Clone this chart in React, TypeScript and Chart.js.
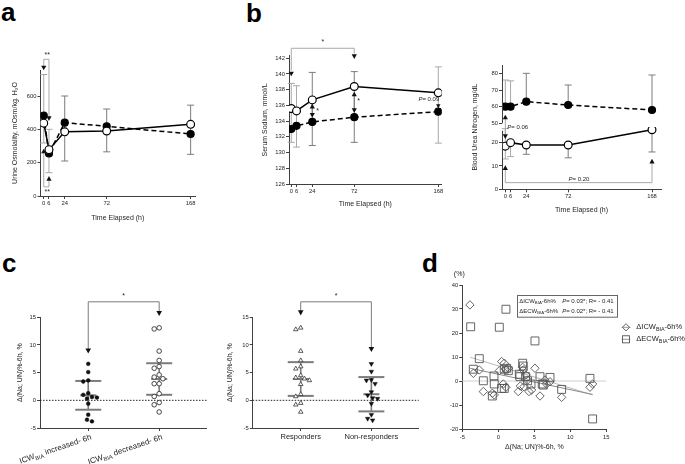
import React, { useEffect, useRef } from 'react';
import { Chart, registerables } from 'chart.js';

Chart.register(...registerables);

const FONT = '"Liberation Sans", Arial, Helvetica, sans-serif';
Chart.defaults.font.family = FONT;

const TXT = '#1e1e1e';
const AXIS = '#404040';
const LIGHT = '#a8a8a8';
const MID = '#7c7c7c';
const TICK_SIZE = 5.8;
const TITLE_SIZE = 7;

// ---------- time points (panels a, b) ----------
const hours = [0, 6, 24, 72, 168];

// a: urine osmolality
const osmFilled = [483, 255, 440, 418, 372];
const osmOpen = [437, 278, 385, 390, 430];
const osmErrHigh = [729, 400, 600, 522, 545];
const osmErrLow = [318, 140, 210, 265, 250];
const osmTicks = [0, 200, 400, 600];

// b: serum sodium
const naOpen = [135.6, 135.3, 136.7, 138.4, 137.6];
const naFilled = [133.0, 133.4, 133.9, 134.5, 135.2];
const naErrHigh = [138.8, 138.5, 140.2, 140.3, 140.9];
const naErrLow = [131.3, 130.7, 130.9, 131.3, 131.2];
const naTicks = [126, 128, 130, 132, 134, 136, 138, 140, 142];

// b: blood urea nitrogen
const bunFilled = [60, 60, 63, 61, 58];
const bunFilledHigh = [76, 75.5, 80, 73, 79];
const bunOpen = [18.5, 20, 19, 19, 25.5];
const bunOpenLow = [13, 14, 15, 13.5, 16];
const bunOpenHigh = [26, null, null, null, null];
const bunUpperTicks = [50, 60, 70, 80];
const bunLowerTicks = [0, 10, 20];

// c: Δ(Na; UN)%-6h by group
const icwIncreased = [6.6, 5.1, 3.6, 3.4, 1.3, 1.0, 0.6, 0.5, 0.3, -0.6, -2.6, -3.5, -3.8];
const icwDecreased = [13.1, 12.9, 8.9, 7.2, 6.1, 5.8, 4.6, 4.2, 3.9, 3.0, 3.0, 1.2, 0.7, -0.4, -0.8, -2.1];
const icwGroupMean = [0.9, 3.85];
const icwGroupSd = [2.6, 2.85];
const responders = [13.1, 12.8, 8.9, 7.2, 6.1, 5.7, 4.5, 4.1, 3.9, 3.6, 2.9, 1.1, 0.7, -0.5, -0.8, -2.1];
const nonResponders = [6.6, 5.2, 3.7, 3.6, 3.0, 1.5, 0.9, 0.4, 0.3, -0.6, -2.6, -3.3, -3.6];
const respGroupMean = [3.85, 1.1];
const respGroupSd = [3.05, 3.1];
const cTicks = [-5, 0, 5, 10, 15];
const respLabels = ['Responders', 'Non-responders'];

// d: scatter
const icwX = [-3.94, -3.47, -2.64, -2.08, -0.83, -0.56, 0.14, 0.46, 0.83, 0.69, 1.06, 1.0, 1.39, 2.78, 3.06, 3.38, 3.47, 3.56, 3.84, 4.07, 4.26, 4.63, 5.09, 5.79, 6.48, 6.7, 7.18, 8.8, 12.73, 13.1];
const icwY = [31.7, 3.2, 4.6, -4.4, -5.1, -5.8, 4.3, 8.1, 7.4, -1.25, -2.6, 4.9, 5.3, -4.4, -2.1, 5.7, 4.6, -2.4, 2.5, 0.4, -4.4, -3.75, 5.3, -6.25, 0.4, -1.25, -0.3, -6.8, -2.6, -1.25];
const ecwX = [-3.84, -3.47, -2.64, -2.08, -0.6, -0.56, -0.83, 0.14, 0.46, 0.83, 0.83, 1.06, 1.16, 1.39, 2.92, 3.0, 3.38, 3.47, 3.8, 4.07, 4.54, 5.09, 5.79, 6.1, 6.25, 7.18, 8.8, 12.73, 13.1];
const ecwY = [22.6, 4.9, 9.3, 0.1, 2.1, -1.25, -6.25, 22.4, -3.1, -3.1, 4.9, 29.9, 5.3, 4.3, 2.8, 1.8, 7.4, 6.25, 1.8, 0.1, -1.25, 16.7, 1.8, -1.25, -1.7, 1.5, -3.5, 1.1, -15.8];
const fitX = [-3.9, 13.1];
const fitIcw = [5.3, -5.6];
const fitEcw = [9.9, -5.8];
const dTicksX = [-5, 0, 5, 10, 15];
const dTicksY = [-20, -10, 0, 10, 20, 30, 40];

// ---------- geometry ----------
const GEO: any = {
  a: { L: 0, T: 30, W: 205, H: 195, cl: 40.5, ct: 70, cr: 195, cb: 196 },
  b: { L: 200, T: 30, W: 250, H: 185, cl: 289, ct: 55.9, cr: 441.7, cb: 184 },
  bun: { L: 450, T: 30, W: 235, H: 190, cl: 502, ct: 65, cr: 661, cb: 189.3 },
  cl: { L: 0, T: 285, W: 215, H: 179, cl: 40, ct: 317.3, cr: 206.7, cb: 428 },
  cr: { L: 215, T: 285, W: 225, H: 179, cl: 252.7, ct: 317.3, cr: 418.7, cb: 428 },
  d: { L: 440, T: 260, W: 245, H: 204, cl: 462.3, ct: 285, cr: 606.3, cb: 429 },
};

// ---------- drawing helpers ----------
function ln(ctx: any, x1: number, y1: number, x2: number, y2: number, color: string, w = 1, dash: number[] = []) {
  ctx.save();
  ctx.strokeStyle = color;
  ctx.lineWidth = w;
  ctx.setLineDash(dash);
  ctx.beginPath();
  ctx.moveTo(x1, y1);
  ctx.lineTo(x2, y2);
  ctx.stroke();
  ctx.restore();
}
function tri(ctx: any, x: number, y: number, dir: string, s = 2.6, color = '#111') {
  ctx.save();
  ctx.fillStyle = color;
  ctx.beginPath();
  const h = s * 0.9;
  if (dir === 'down') {
    ctx.moveTo(x - s, y - h); ctx.lineTo(x + s, y - h); ctx.lineTo(x, y + h);
  } else {
    ctx.moveTo(x - s, y + h); ctx.lineTo(x + s, y + h); ctx.lineTo(x, y - h);
  }
  ctx.closePath();
  ctx.fill();
  ctx.restore();
}
function ebar(ctx: any, x: number, yHi: number, yLo: number, cap: number, color: string, w = 1) {
  ln(ctx, x, yHi, x, yLo, color, w);
  ln(ctx, x - cap, yHi, x + cap, yHi, color, w);
  ln(ctx, x - cap, yLo, x + cap, yLo, color, w);
}
type Seg = { t: string; sub?: boolean; it?: boolean };
const S = (t: string, it = false): Seg => ({ t, it });
const SUB = (t: string): Seg => ({ t, sub: true });
function segFont(size: number, s: Seg) {
  return `${s.it ? 'italic ' : ''}${s.sub ? size * 0.72 : size}px ${FONT}`;
}
function segsWidth(ctx: any, segs: Seg[], size: number) {
  let w = 0;
  for (const s of segs) { ctx.font = segFont(size, s); w += ctx.measureText(s.t).width; }
  return w;
}
function drawSegs(ctx: any, segs: Seg[], x: number, y: number, size: number, align = 'left', color = TXT) {
  ctx.save();
  ctx.fillStyle = color;
  ctx.textBaseline = 'middle';
  ctx.textAlign = 'left';
  const w = segsWidth(ctx, segs, size);
  let cx = align === 'left' ? x : align === 'right' ? x - w : x - w / 2;
  for (const s of segs) {
    ctx.font = segFont(size, s);
    ctx.fillText(s.t, cx, s.sub ? y + size * 0.32 : y);
    cx += ctx.measureText(s.t).width;
  }
  ctx.restore();
}
function diamond(ctx: any, x: number, y: number, r: number) {
  ctx.beginPath(); ctx.moveTo(x - r, y); ctx.lineTo(x, y - r); ctx.lineTo(x + r, y); ctx.lineTo(x, y + r); ctx.closePath(); ctx.stroke();
}
function square(ctx: any, x: number, y: number, r: number) {
  const s = r * Math.SQRT1_2;
  ctx.strokeRect(x - s, y - s, 2 * s, 2 * s);
}

// simple deterministic beeswarm offsets (x units) for a dot column
function swarm(vals: number[], dx: number, dy: number) {
  const placed: { x: number; y: number }[] = [];
  return vals.map((v) => {
    let off = 0;
    for (let k = 0; k < 40; k++) {
      const cand = (k % 2 === 0 ? 1 : -1) * Math.ceil(k / 2) * dx * 0.25;
      const hit = placed.some((p) => Math.hypot((p.x - cand) / dx, (p.y - v) / dy) < 1);
      if (!hit) { off = cand; break; }
    }
    placed.push({ x: off, y: v });
    return off;
  });
}

// ---------- config helpers ----------
function opts(g: any, scales: any) {
  return {
    animation: false,
    responsive: false,
    maintainAspectRatio: false,
    devicePixelRatio: 1,
    events: [],
    layout: { padding: { left: 0, top: g.ct - g.T, right: g.L + g.W - g.cr, bottom: 0 } },
    plugins: { legend: { display: false }, tooltip: { enabled: false } },
    scales,
  };
}
function lin(p: any) {
  const o: any = {
    type: 'linear',
    min: p.min,
    max: p.max,
    position: p.pos,
    afterBuildTicks: (s: any) => { s.ticks = p.ticks.map((v: number) => ({ value: v })); },
    afterFit: (s: any) => { if (p.pos === 'bottom') s.height = p.size; else s.width = p.size; },
    border: { display: p.border !== false, color: AXIS, width: 1 },
    grid: { display: true, drawOnChartArea: false, drawTicks: true, tickLength: 3, color: AXIS, lineWidth: 1 },
    ticks: { font: { size: p.tickSize || TICK_SIZE, family: FONT }, color: TXT, padding: p.tickPad ?? 1, maxRotation: 0, minRotation: 0, autoSkip: false },
    title: p.title
      ? { display: true, text: p.title, color: TXT, font: { size: TITLE_SIZE, family: FONT }, padding: p.pos === 'bottom' ? { top: 0, bottom: p.titlePad } : { top: p.titlePad, bottom: 0 } }
      : { display: false },
  };
  if (p.labels) o.ticks.callback = p.labels;
  if (p.stack) { o.stack = p.stack; o.stackWeight = p.weight; }
  if (p.axis) o.axis = p.axis;
  return o;
}
const pts = (xs: number[], ys: number[]) => xs.map((x, i) => ({ x, y: ys[i] }));
function timeDs(ys: number[], filled: boolean, extra: any = {}) {
  return {
    data: pts(hours, ys),
    borderColor: '#000',
    borderWidth: 1.5,
    borderDash: filled ? [5, 3] : [],
    fill: false,
    tension: 0,
    pointRadius: filled ? 3.5 : 3.9,
    pointBackgroundColor: filled ? '#000' : '#fff',
    pointBorderColor: '#000',
    pointBorderWidth: 1.2,
    ...extra,
  };
}

// ---------- panel a ----------
function makeA() {
  const g = GEO.a;
  const plugin = {
    id: 'aExtras',
    beforeDatasetsDraw(chart: any) {
      const { ctx, scales: { x, y } } = chart;
      hours.forEach((h, i) =>
        ebar(ctx, x.getPixelForValue(h), y.getPixelForValue(osmErrHigh[i]), y.getPixelForValue(osmErrLow[i]), 3.5, i < 2 ? LIGHT : MID));
    },
    afterDraw(chart: any) {
      const { ctx, scales: { x, y } } = chart;
      const X = (v: number) => x.getPixelForValue(v), Y = (v: number) => y.getPixelForValue(v);
      ln(ctx, X(0), Y(820), X(6), Y(820), LIGHT);
      ln(ctx, X(0), Y(820), X(0), Y(776), LIGHT);
      ln(ctx, X(6), Y(820), X(6), Y(472), LIGHT);
      tri(ctx, X(0), Y(768), 'down');
      tri(ctx, X(6), Y(464), 'down');
      drawSegs(ctx, [S('**')], X(4), Y(848), 7, 'center');
      ln(ctx, X(0), Y(55), X(6), Y(55), LIGHT);
      ln(ctx, X(0), Y(55), X(0), Y(262), LIGHT);
      ln(ctx, X(6), Y(55), X(6), Y(98), LIGHT);
      tri(ctx, X(0), Y(270), 'up');
      tri(ctx, X(6), Y(106), 'up');
      drawSegs(ctx, [S('**')], X(4), Y(22), 7, 'center');
    },
  };
  return {
    type: 'line',
    data: { datasets: [timeDs(osmOpen, false), timeDs(osmFilled, true)] },
    options: opts(g, {
      x: lin({ pos: 'bottom', min: -3.7, max: 173, ticks: hours, size: g.T + g.H - g.cb, title: 'Time Elapsed (h)', titlePad: 2.8 }),
      y: lin({ pos: 'left', min: 0, max: 756, ticks: osmTicks, size: g.cl - g.L, title: 'Urine Osmolality, mOsm/kg. H\u2082O', titlePad: 10.8 }),
    }),
    plugins: [plugin],
  };
}

// ---------- panel b: sodium ----------
function makeB() {
  const g = GEO.b;
  const plugin = {
    id: 'bExtras',
    beforeDatasetsDraw(chart: any) {
      const { ctx, scales: { x, y } } = chart;
      const cols = [LIGHT, LIGHT, MID, MID, LIGHT];
      hours.forEach((h, i) =>
        ebar(ctx, x.getPixelForValue(h), y.getPixelForValue(naErrHigh[i]), y.getPixelForValue(naErrLow[i]), 3.5, cols[i]));
    },
    afterDraw(chart: any) {
      const { ctx, scales: { x, y } } = chart;
      const X = (v: number) => x.getPixelForValue(v), Y = (v: number) => y.getPixelForValue(v);
      ln(ctx, X(0), Y(143.27), X(72), Y(143.27), LIGHT);
      ln(ctx, X(0), Y(143.27), X(0), Y(140.4), LIGHT);
      ln(ctx, X(72), Y(143.27), X(72), Y(142.6), LIGHT);
      tri(ctx, X(0), Y(140.0), 'down');
      tri(ctx, X(72), Y(142.2), 'down');
      drawSegs(ctx, [S('*')], X(36), Y(144.0), 7, 'center');
      ln(ctx, X(24), Y(135.9), X(24), Y(134.75), MID);
      tri(ctx, X(24), Y(135.9), 'up');
      tri(ctx, X(24), Y(134.75), 'down');
      drawSegs(ctx, [S('*')], X(30), Y(135.3), 7, 'center');
      ln(ctx, X(72), Y(137.45), X(72), Y(135.35), MID);
      tri(ctx, X(72), Y(137.45), 'up');
      tri(ctx, X(72), Y(135.35), 'down');
      drawSegs(ctx, [S('*')], X(77), Y(136.6), 7, 'center');
      tri(ctx, X(168), Y(135.9), 'down', 2.2);
      drawSegs(ctx, [S('P', true), S('= 0.09')], X(168) + 1, Y(136.8), 6, 'right');
    },
  };
  return {
    type: 'line',
    data: { datasets: [timeDs(naOpen, false), timeDs(naFilled, true)] },
    options: opts(g, {
      x: lin({ pos: 'bottom', min: -2.6, max: 171.9, ticks: hours, size: g.T + g.H - g.cb, title: 'Time Elapsed (h)', titlePad: 6.8 }),
      y: lin({ pos: 'left', min: 126, max: 142.3, ticks: naTicks, size: g.cl - g.L, title: 'Serum Sodium, mmol/L', titlePad: 60.8 }),
    }),
    plugins: [plugin],
  };
}

// ---------- panel b: BUN (broken axis) ----------
function makeBun() {
  const g = GEO.bun;
  const plugin = {
    id: 'bunExtras',
    beforeDatasetsDraw(chart: any) {
      const { ctx, scales: { x, yU, yL } } = chart;
      const cols = [LIGHT, LIGHT, MID, MID, MID];
      hours.forEach((h, i) => {
        const px = x.getPixelForValue(h);
        const hi = yU.getPixelForValue(bunFilledHigh[i]);
        ln(ctx, px, yU.getPixelForValue(bunFilled[i]), px, hi, cols[i]);
        ln(ctx, px - 3.5, hi, px + 3.5, hi, cols[i]);
        const lo = yL.getPixelForValue(bunOpenLow[i]);
        ln(ctx, px, yL.getPixelForValue(bunOpen[i]), px, lo, cols[i]);
        ln(ctx, px - 3.5, lo, px + 3.5, lo, cols[i]);
        const oh = bunOpenHigh[i];
        if (oh !== null) {
          const ph = yL.getPixelForValue(oh);
          ln(ctx, px, yL.getPixelForValue(bunOpen[i]), px, ph, cols[i]);
          ln(ctx, px - 3.5, ph, px + 3.5, ph, cols[i]);
        }
      });
    },
    afterDraw(chart: any) {
      const { ctx, chartArea: ca, scales: { x, yU, yL } } = chart;
      const X = (v: number) => x.getPixelForValue(v);
      const YU = (v: number) => yU.getPixelForValue(v), YL = (v: number) => yL.getPixelForValue(v);
      const ax = Math.round(ca.left - 0.5) + 0.5;
      ln(ctx, ax, YU(85), ax, YU(50), AXIS);
      ln(ctx, ax, YL(25.1), ax, YL(0) + 0.5, AXIS);
      ln(ctx, X(0), YU(53.8), X(0), YL(22.6), LIGHT);
      tri(ctx, X(0), YU(53.8), 'up');
      tri(ctx, X(0), YL(22.6), 'down');
      drawSegs(ctx, [S('P', true), S('= 0.06')], X(0) + 2, YL(26.4), 6, 'left');
      const yb = YL(2.85);
      ln(ctx, X(0), yb, X(168), yb, LIGHT);
      ln(ctx, X(0), yb, X(0), YL(8.8), LIGHT);
      ln(ctx, X(168), yb, X(168), YL(11.6), LIGHT);
      tri(ctx, X(0), YL(9.3), 'up');
      tri(ctx, X(168), YL(12.1), 'up');
      drawSegs(ctx, [S('P', true), S('= 0.20')], X(84.4), YL(4.4), 6, 'center');
      ctx.save();
      ctx.translate(ca.left - 27, (ca.top + ca.bottom) / 2);
      ctx.rotate(-Math.PI / 2);
      drawSegs(ctx, [S('Blood Urea Nitrogen, mg/dL')], 0, 0, TITLE_SIZE, 'center');
      ctx.restore();
    },
  };
  const ySize = g.cl - g.L;
  return {
    type: 'line',
    data: {
      datasets: [
        timeDs(bunOpen, false, { yAxisID: 'yL', xAxisID: 'x' }),
        timeDs(bunFilled, true, { yAxisID: 'yU', xAxisID: 'x' }),
      ],
    },
    options: opts(g, {
      x: lin({ pos: 'bottom', min: -3.8, max: 178.3, ticks: hours, size: g.T + g.H - g.cb, title: 'Time Elapsed (h)', titlePad: 5.8 }),
      yL: lin({ pos: 'left', axis: 'y', min: 0, max: 26.7, ticks: bunLowerTicks, size: ySize, border: false, stack: 'bun', weight: 62.3 }),
      yU: lin({ pos: 'left', axis: 'y', min: 47.8, max: 85, ticks: bunUpperTicks, size: ySize, border: false, stack: 'bun', weight: 62 }),
    }),
    plugins: [plugin],
  };
}

// ---------- panel c ----------
function cPlugin(id: string, means: number[], sds: number[], triY: number[], labels: Seg[][] | null) {
  return {
    id,
    beforeDatasetsDraw(chart: any) {
      const { ctx, chartArea: ca, scales: { x, y } } = chart;
      const X = (v: number) => x.getPixelForValue(v), Y = (v: number) => y.getPixelForValue(v);
      ln(ctx, ca.left, Y(0), ca.right, Y(0), '#222', 1, [1.5, 1.5]);
      means.forEach((m, i) => {
        const px = X(i);
        ln(ctx, px, Y(m + sds[i]), px, Y(m - sds[i]), MID, 1.6);
        ln(ctx, px - 13, Y(m + sds[i]), px + 13, Y(m + sds[i]), MID, 2);
        ln(ctx, px - 13, Y(m - sds[i]), px + 13, Y(m - sds[i]), MID, 2);
        ln(ctx, px - 8, Y(m), px + 8, Y(m), MID, 2);
      });
    },
    afterDraw(chart: any) {
      const { ctx, chartArea: ca, scales: { x, y } } = chart;
      const X = (v: number) => x.getPixelForValue(v), Y = (v: number) => y.getPixelForValue(v);
      const yb = Y(17.8);
      ln(ctx, X(0), yb, X(1), yb, MID);
      ln(ctx, X(0), yb, X(0), Y(triY[0] + 0.3), MID);
      ln(ctx, X(1), yb, X(1), Y(triY[1] + 0.3), MID);
      tri(ctx, X(0), Y(triY[0]), 'down', 2.8);
      tri(ctx, X(1), Y(triY[1]), 'down', 2.8);
      drawSegs(ctx, [S('*')], X(0.5), Y(18.8), 7, 'center');
      if (labels) {
        labels.forEach((segs, i) => {
          ctx.save();
          ctx.translate(X(i) + 3, ca.bottom + 9);
          ctx.rotate((-19 * Math.PI) / 180);
          drawSegs(ctx, segs, 0, 0, 8, 'right');
          ctx.restore();
        });
      }
    },
  };
}
function groupDs(vals: number[], cat: number, style: any) {
  const offs = swarm(vals, 0.07, 0.9);
  return {
    data: vals.map((v, i) => ({ x: cat + offs[i], y: v })),
    showLine: false,
    ...style,
  };
}
const filledDot = { pointStyle: 'circle', pointRadius: 1.9, pointBackgroundColor: '#111', pointBorderColor: '#111', pointBorderWidth: 0.5 };
const openDot = { pointStyle: 'circle', pointRadius: 2.3, pointBackgroundColor: '#fff', pointBorderColor: '#333', pointBorderWidth: 0.9 };
const openTri = { pointStyle: 'triangle', pointRadius: 2.6, pointBackgroundColor: '#fff', pointBorderColor: '#333', pointBorderWidth: 0.8 };
const filledTri = { pointStyle: 'triangle', pointRotation: 180, pointRadius: 2.6, pointBackgroundColor: '#111', pointBorderColor: '#111', pointBorderWidth: 0.5 };

function makeCLeft() {
  const g = GEO.cl;
  const labs: Seg[][] = [
    [S('ICW'), SUB('BIA'), S(' increased- 6h')],
    [S('ICW'), SUB('BIA'), S(' decreased- 6h')],
  ];
  return {
    type: 'scatter',
    data: { datasets: [groupDs(icwIncreased, 0, filledDot), groupDs(icwDecreased, 1, openDot)] },
    options: opts(g, {
      x: lin({ pos: 'bottom', min: -0.68, max: 1.67, ticks: [0, 1], size: g.T + g.H - g.cb, labels: () => '' }),
      y: lin({ pos: 'left', min: -5, max: 15, ticks: cTicks, size: g.cl - g.L, title: '\u0394(Na; UN)%-6h, %', titlePad: 15.5 }),
    }),
    plugins: [cPlugin('cl', icwGroupMean, icwGroupSd, [8.9, 15.7], labs)],
  };
}
function makeCRight() {
  const g = GEO.cr;
  return {
    type: 'scatter',
    data: { datasets: [groupDs(responders, 0, openTri), groupDs(nonResponders, 1, filledTri)] },
    options: opts(g, {
      x: lin({ pos: 'bottom', min: -0.68, max: 1.67, ticks: [0, 1], size: g.T + g.H - g.cb, tickSize: 7.5, tickPad: 1, labels: (v: number) => respLabels[v] ?? '' }),
      y: lin({ pos: 'left', min: -5, max: 15, ticks: cTicks, size: g.cl - g.L, title: '\u0394(Na; UN)%-6h, %', titlePad: 10.8 }),
    }),
    plugins: [cPlugin('cr', respGroupMean, respGroupSd, [15.8, 9.2], null)],
  };
}

// ---------- panel d ----------
function makeD() {
  const g = GEO.d;
  const icwLabel: Seg[] = [S('\u0394ICW'), SUB('BIA'), S('-6h%')];
  const ecwLabel: Seg[] = [S('\u0394ECW'), SUB('BIA'), S('-6h%')];
  const plugin = {
    id: 'dExtras',
    beforeDatasetsDraw(chart: any) {
      const { ctx, chartArea: ca, scales: { y } } = chart;
      ln(ctx, ca.left, y.getPixelForValue(0), ca.right, y.getPixelForValue(0), '#cfcfcf', 1);
    },
    afterDraw(chart: any) {
      const { ctx, chartArea: ca } = chart;
      drawSegs(ctx, [S('(%)')], ca.left - 3, ca.top - 11, 7, 'center');
      const bx = ca.left + 54.4, by = ca.top + 10;
      ctx.save();
      ctx.strokeStyle = '#666';
      ctx.lineWidth = 1;
      ctx.strokeRect(Math.round(bx) + 0.5, Math.round(by) + 0.5, 100, 21.7);
      ctx.restore();
      drawSegs(ctx, icwLabel, bx + 2.5, by + 6, 6, 'left');
      drawSegs(ctx, [S('P', true), S('= 0.03*; R= - 0.41')], bx + 45.5, by + 6, 6, 'left');
      drawSegs(ctx, ecwLabel, bx + 2.5, by + 16, 6, 'left');
      drawSegs(ctx, [S('P', true), S('= 0.02*; R= - 0.41')], bx + 45.5, by + 16, 6, 'left');
      const lx = ca.right + 15.4;
      const items = [
        { y: ca.top + 42.3, segs: icwLabel, mk: 'd' },
        { y: ca.top + 54.3, segs: ecwLabel, mk: 's' },
      ];
      items.forEach((it) => {
        ln(ctx, lx, it.y, lx + 8.6, it.y, '#999', 1);
        ctx.save();
        ctx.strokeStyle = '#555';
        ctx.lineWidth = 0.9;
        if (it.mk === 'd') diamond(ctx, lx + 4.3, it.y, 3.6);
        else square(ctx, lx + 4.3, it.y, 5);
        ctx.restore();
        drawSegs(ctx, it.segs, lx + 14.6, it.y, 7.5, 'left');
      });
    },
  };
  return {
    type: 'scatter',
    data: {
      datasets: [
        { data: pts(icwX, icwY), pointStyle: 'rectRot', pointRadius: 4.2, pointBackgroundColor: 'rgba(0,0,0,0)', pointBorderColor: '#555', pointBorderWidth: 0.9, showLine: false },
        { data: pts(ecwX, ecwY), pointStyle: 'rect', pointRadius: 5.6, pointBackgroundColor: 'rgba(0,0,0,0)', pointBorderColor: '#555', pointBorderWidth: 0.9, showLine: false },
        { data: pts(fitX, fitIcw), showLine: true, borderColor: '#8a8a8a', borderWidth: 1, pointRadius: 0 },
        { data: pts(fitX, fitEcw), showLine: true, borderColor: '#b8b8b8', borderWidth: 1, pointRadius: 0 },
      ],
    },
    options: opts(g, {
      x: lin({ pos: 'bottom', min: -5, max: 15, ticks: dTicksX, size: g.T + g.H - g.cb, title: '\u0394(Na; UN)%-6h, %', titlePad: 13.1, tickPad: 2 }),
      y: lin({ pos: 'left', min: -20, max: 40, ticks: dTicksY, size: g.cl - g.L }),
    }),
    plugins: [plugin],
  };
}

// ---------- components ----------
function ChartBox({ g, make }: any) {
  const ref = useRef<HTMLCanvasElement>(null);
  useEffect(() => {
    const c = new Chart(ref.current as HTMLCanvasElement, make());
    return () => c.destroy();
  }, []);
  return (
    <canvas
      ref={ref}
      width={g.W}
      height={g.H}
      style={{ position: 'absolute', left: g.L, top: g.T, width: g.W, height: g.H }}
    />
  );
}

const letter = (left: number, top: number): React.CSSProperties => ({
  position: 'absolute',
  left,
  top,
  fontFamily: FONT,
  fontWeight: 700,
  fontSize: 26,
  lineHeight: '26px',
  color: '#000',
});

export default function App() {
  return (
    <div style={{ position: 'absolute', left: 0, top: 0, width: 685, height: 464, background: '#fff', overflow: 'hidden' }}>
      <ChartBox g={GEO.a} make={makeA} />
      <ChartBox g={GEO.b} make={makeB} />
      <ChartBox g={GEO.bun} make={makeBun} />
      <ChartBox g={GEO.cl} make={makeCLeft} />
      <ChartBox g={GEO.cr} make={makeCRight} />
      <ChartBox g={GEO.d} make={makeD} />
      <div style={letter(1, -1)}>a</div>
      <div style={letter(246, 0)}>b</div>
      <div style={letter(2, 250)}>c</div>
      <div style={letter(422, 250)}>d</div>
    </div>
  );
}
